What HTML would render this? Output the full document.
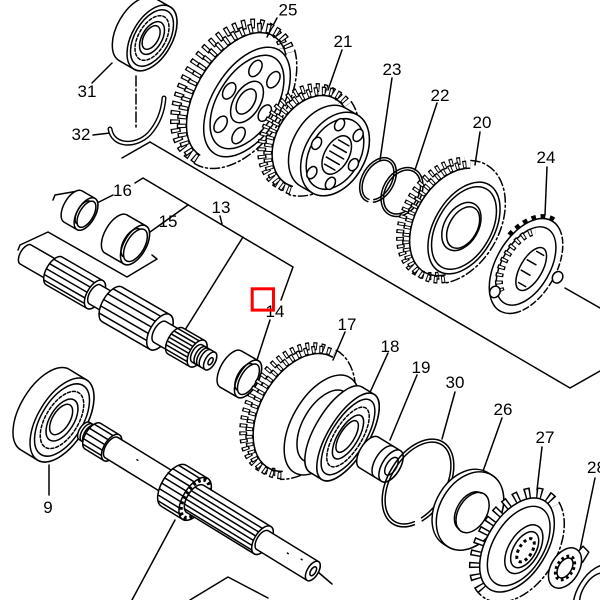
<!DOCTYPE html>
<html><head><meta charset="utf-8"><style>
html,body{margin:0;padding:0;background:#fff;}
svg{display:block}
text{font-family:"Liberation Sans",Arial,sans-serif;font-size:17px;fill:#000;stroke:none;text-anchor:middle}
</style></head><body>
<svg width="600" height="600" viewBox="0 0 600 600" xmlns="http://www.w3.org/2000/svg">
<rect width="600" height="600" fill="#fff"/>
<g fill="none" stroke="#000" stroke-width="1.5" stroke-linejoin="round" stroke-linecap="round">

<!-- frame lines & leaders -->
<path d="M150,142 L570,388 L600,371"/>
<path d="M150,142 L122,158"/>
<path d="M53,200 L55,195 L78,191 M135,183 L143,178 L293,267 L281,300"/>
<path d="M220,216 L222,224 M243,237 L185,330"/>
<path d="M150,232 L188,205"/>
<path d="M97,203 L113,195"/>
<path d="M18,250 L20,245 L48,232 L127,277 L157,259 L152,255"/>
<path d="M270,320 L257,360"/>
<path d="M92,83 L112,63"/>
<path d="M93,135 L110,133"/>
<path d="M277,18 L267,37"/>
<path d="M342,50 L328,90"/>
<path d="M392,78 L380,160"/>
<path d="M437,103 L415,170"/>
<path d="M480,132 L475,165"/>
<path d="M547,167 L545,215"/>
<path d="M345,332 L333,360"/>
<path d="M388,353 L367,399"/>
<path d="M417,375 L390,440"/>
<path d="M455,392 L442,439"/>
<path d="M502,418 L482,474"/>
<path d="M542,447 L537,490"/>
<path d="M595,478 L580,550"/>
<path d="M49,465 L49,495"/>
<path d="M175,520 L132,600"/>
<path d="M190,600 L228,577 L268,598"/>
<path d="M318,572 L332,584"/>
<path d="M565,288 L600,308"/>
<path d="M136,76 L136,130" stroke-dasharray="10 3 2 3"/>

<!-- bearing 31 -->
<g transform="translate(152,38) rotate(30)">
<path fill="#fff" d="M-17,-36 L0,-36 A20 36 0 0 1 0,36 L-17,36 A20 36 0 0 1 -17,-36Z"/>
<ellipse rx="20" ry="36" fill="#fff"/>
<ellipse rx="17.2" ry="31"/>
<ellipse rx="13.6" ry="24.5" stroke-dasharray="3 2"/>
<ellipse rx="10" ry="18"/>
<ellipse cx="-1" rx="7.2" ry="13"/>
</g>

<!-- circlip 32 -->
<path d="M110,129 C113,147 136,147 149,134 C158,124 163,111 164,98" stroke-width="5"/>
<path d="M110,129 C113,147 136,147 149,134 C158,124 163,111 164,98" stroke="#fff" stroke-width="2.2"/>

<!-- gear 25 -->
<g transform="translate(247,102) rotate(32)">
<g transform="translate(-8,0)">
<path d="M-12,75 A45 75 0 1 1 10.5,-65" pathLength="48" stroke-width="10" stroke-dasharray="1 1" stroke-linecap="butt"/>
<path d="M-12,75 A45 75 0 1 1 10.5,-65" pathLength="48" stroke="#fff" stroke-width="7.2" stroke-dasharray="0.5 1.5" stroke-dashoffset="-0.25" stroke-linecap="butt"/>
</g>
<path d="M-12,75 A45 75 0 1 1 10.5,-65" pathLength="48" stroke-width="10" stroke-dasharray="1 1" stroke-linecap="butt"/>
<path d="M-12,75 A45 75 0 1 1 10.5,-65" pathLength="48" stroke="#fff" stroke-width="7.2" stroke-dasharray="0.5 1.5" stroke-dashoffset="-0.25" stroke-linecap="butt"/>
<path d="M-12,70 A40 70 0 1 1 8,-60.6"/>
<path d="M13,-69.3 A50 80 0 0 1 -12,80" stroke-dasharray="9 3 2 3"/>
<ellipse rx="34" ry="61" fill="#fff"/>
<ellipse rx="29" ry="52"/>
<ellipse cx="21" cy="0" rx="5.5" ry="9"/>
<ellipse cx="10.6" cy="32.9" rx="5.5" ry="9"/>
<ellipse cx="-10.6" cy="32.9" rx="5.5" ry="9"/>
<ellipse cx="-21" cy="0" rx="5.5" ry="9"/>
<ellipse cx="-10.6" cy="-32.9" rx="5.5" ry="9"/>
<ellipse cx="10.6" cy="-32.9" rx="5.5" ry="9"/>
<ellipse rx="13" ry="23"/>
<ellipse cx="-1" rx="8" ry="14"/>
</g>

<!-- gear 21 -->
<g transform="translate(335,154) rotate(30)">
<g transform="translate(-7,0)">
<path d="M-20.1,53.7 A39.5 53.5 0 1 1 -13.5,-49.3" pathLength="44" stroke-width="9" stroke-dasharray="1 1" stroke-linecap="butt"/>
<path d="M-20.1,53.7 A39.5 53.5 0 1 1 -13.5,-49.3" pathLength="44" stroke="#fff" stroke-width="6.2" stroke-dasharray="0.5 1.5" stroke-dashoffset="-0.25" stroke-linecap="butt"/>
</g>
<path d="M-20.1,53.7 A39.5 53.5 0 1 1 -13.5,-49.3" pathLength="44" stroke-width="9" stroke-dasharray="1 1" stroke-linecap="butt"/>
<path d="M-20.1,53.7 A39.5 53.5 0 1 1 -13.5,-49.3" pathLength="44" stroke="#fff" stroke-width="6.2" stroke-dasharray="0.5 1.5" stroke-dashoffset="-0.25" stroke-linecap="butt"/>
<path d="M-20.9,49.3 A35 49 0 1 1 -15,-45"/>
<path d="M-12,-53.5 A44 58 0 0 1 -19.4,58.1" stroke-dasharray="9 3 2 3"/>
<path fill="#fff" d="M-14,-45 L0,-45 A30 45 0 0 1 0,45 L-14,45 A30 45 0 0 1 -14,-45Z"/>
<ellipse rx="30" ry="45" fill="#fff"/>
<ellipse rx="25" ry="38"/>
<ellipse cx="2" rx="12" ry="21"/>
<path d="M-4,-14 L8,-14 M-6,-7 L9,-7 M-6,0 L10,0 M-6,7 L9,7 M-4,14 L8,14"/>
<ellipse cx="21.3" cy="0" rx="4.5" ry="6.5" fill="#fff"/>
<ellipse cx="10.7" cy="27.7" rx="4.5" ry="6.5" fill="#fff"/>
<ellipse cx="-10.7" cy="27.7" rx="4.5" ry="6.5" fill="#fff"/>
<ellipse cx="-21.3" cy="0" rx="4.5" ry="6.5" fill="#fff"/>
<ellipse cx="-10.7" cy="-27.7" rx="4.5" ry="6.5" fill="#fff"/>
<ellipse cx="10.7" cy="-27.7" rx="4.5" ry="6.5" fill="#fff"/>
</g>

<!-- circlips 23, 22 -->
<g transform="translate(378,180) rotate(30)">
<ellipse rx="16" ry="24" pathLength="100" stroke-dasharray="19 4.5 76.5"/>
<ellipse rx="13.5" ry="21.5" pathLength="100" stroke-dasharray="19 4.5 76.5"/>
</g>
<g transform="translate(402,192) rotate(30)">
<ellipse rx="19" ry="26"/>
<ellipse rx="16.5" ry="23.5"/>
</g>

<!-- gear 20 -->
<g transform="translate(464,228) rotate(30)">
<g transform="translate(-7,0)">
<path d="M9,53.7 A42 62 0 1 1 -26.4,-58.3" pathLength="46" stroke-width="8" stroke-dasharray="1 1" stroke-linecap="butt"/>
<path d="M9,53.7 A42 62 0 1 1 -26.4,-58.3" pathLength="46" stroke="#fff" stroke-width="5.2" stroke-dasharray="0.5 1.5" stroke-dashoffset="-0.25" stroke-linecap="butt"/>
</g>
<path d="M9,53.7 A42 62 0 1 1 -26.4,-58.3" pathLength="46" stroke-width="8" stroke-dasharray="1 1" stroke-linecap="butt"/>
<path d="M9,53.7 A42 62 0 1 1 -26.4,-58.3" pathLength="46" stroke="#fff" stroke-width="5.2" stroke-dasharray="0.5 1.5" stroke-dashoffset="-0.25" stroke-linecap="butt"/>
<path d="M7,50.2 A38 58 0 1 1 -25,-54.5"/>
<path d="M-27.7,-62 A46 66 0 0 1 11,57.2" stroke-dasharray="9 3 2 3"/>
<ellipse rx="30" ry="50" fill="#fff"/>
<ellipse rx="27" ry="45"/>
<ellipse cx="-3" rx="17" ry="26"/>
<ellipse cx="-1" rx="14" ry="22.5"/>
</g>

<!-- gear 24 -->
<g transform="translate(526,266) rotate(30)">
<ellipse rx="30" ry="52" fill="#fff" stroke="none"/>
<path d="M-30,-18.5 A32 54 0 0 1 5.6,-53.2" pathLength="12" stroke-width="5" stroke-dasharray="1 1" stroke-linecap="butt"/>
<path d="M15,45 A30 52 0 1 1 10.3,-48.9"/>
<path d="M10.3,-48.9 A30 52 0 0 1 15,45" stroke-dasharray="6 3"/>
<ellipse rx="24" ry="43"/>
<path d="M-8.8,34.8 A20 37 0 0 1 -8.8,-34.8" pathLength="20" stroke-width="8" stroke-dasharray="1 1" stroke-linecap="butt"/>
<path d="M-8.8,34.8 A20 37 0 0 1 -8.8,-34.8" pathLength="20" stroke="#fff" stroke-width="5.2" stroke-dasharray="0.5 1.5" stroke-dashoffset="-0.25" stroke-linecap="butt"/>
<ellipse cx="6" rx="11" ry="24" fill="#fff"/>
<path d="M2,-18 L10,-18 M2,18 L10,18 M-2,-6 L8,-6 M-2,6 L8,6"/>
<ellipse cx="33" cy="-6" rx="5" ry="6" fill="#fff"/>
<ellipse cx="-14" cy="38" rx="5" ry="6" fill="#fff"/>
</g>

<!-- bushing 16 -->
<g transform="translate(86,214) rotate(30)">
<path fill="#fff" d="M-15,-18 L0,-18 A9 18 0 0 1 0,18 L-15,18 A9 18 0 0 1 -15,-18Z"/>
<ellipse rx="9" ry="18" fill="#fff"/>
<ellipse cx="0.5" rx="7" ry="14.5"/>
<path d="M-3,-13 A6 13 0 0 0 -3,13"/>
</g>
<!-- bushing 15 -->
<g transform="translate(135,245) rotate(30)">
<path fill="#fff" d="M-22,-22 L0,-22 A11 22 0 0 1 0,22 L-22,22 A11 22 0 0 1 -22,-22Z"/>
<ellipse rx="11" ry="22" fill="#fff"/>
<ellipse cx="0.5" rx="9" ry="18"/>
<path d="M-4,-16 A8 16 0 0 0 -4,16"/>
</g>

<!-- upper main shaft -->
<g transform="translate(30,257) rotate(30)">
<path fill="#fff" d="M-5,-11 L28,-11 A5.5 11 0 0 1 28,11 L-5,11 A5.5 11 0 0 1 -5,-11Z"/>
<ellipse cx="28" rx="5.5" ry="11" fill="#fff"/>
<path fill="#fff" d="M28,-16 L75,-16 A8 16 0 0 1 75,16 L28,16 A8 16 0 0 1 28,-16Z"/>
<path d="M21.8,-10 L75,-10 M20.3,-4 L75,-4 M20.1,2 L75,2 M21.1,8 L75,8 M23.3,13 L75,13"/>
<ellipse cx="75" rx="8" ry="16" fill="#fff"/>
<path fill="#fff" d="M75,-11 L95,-11 A5.5 11 0 0 1 95,11 L75,11 A5.5 11 0 0 1 75,-11Z"/>
<ellipse cx="95" rx="5.5" ry="11" fill="#fff"/>
<path fill="#fff" d="M95,-20 L150,-20 A10 20 0 0 1 150,20 L95,20 A10 20 0 0 1 95,-20Z"/>
<path d="M87.9,-14 L150,-14 M85.6,-7 L150,-7 M85,0 L150,0 M85.6,7 L150,7 M87.9,14 L150,14"/>
<ellipse cx="150" rx="10" ry="20" fill="#fff"/>
<path fill="#fff" d="M150,-12 L168,-12 A6 12 0 0 1 168,12 L150,12 A6 12 0 0 1 150,-12Z"/>
<ellipse cx="168" rx="6" ry="12" fill="#fff"/>
<path fill="#fff" d="M168,-15 L193,-15 A7.5 15 0 0 1 193,15 L168,15 A7.5 15 0 0 1 168,-15Z"/>
<path d="M163.5,-12 L193,-12 M161.7,-8 L193,-8 M160.8,-4 L193,-4 M160.5,0 L193,0 M160.8,4 L193,4 M161.7,8 L193,8 M163.5,12 L193,12"/>
<ellipse cx="193" rx="7.5" ry="15" fill="#fff"/>
<path fill="#fff" d="M193,-10 L208,-10 A5 10 0 0 1 208,10 L193,10 A5 10 0 0 1 193,-10Z"/>
<path d="M197,-10 A5 10 0 0 0 197,10 M200,-10 A5 10 0 0 0 200,10 M203,-10 A5 10 0 0 0 203,10"/>
<ellipse cx="208" rx="5" ry="10" fill="#fff"/>
<ellipse cx="208.5" rx="2" ry="4"/>
</g>

<!-- ring 14 -->
<g transform="translate(248,379) rotate(30)">
<path fill="#fff" d="M-20,-21 L0,-21 A10 21 0 0 1 0,21 L-20,21 A10 21 0 0 1 -20,-21Z"/>
<ellipse rx="10" ry="21" fill="#fff"/>
<ellipse cx="0.5" rx="8" ry="17"/>
<path d="M-4,-15 A7 15 0 0 0 -4,15"/>
</g>

<!-- bearing 9 -->
<g transform="translate(62,420) rotate(31.5)">
<path fill="#fff" d="M-20,-47 L0,-47 A24 47 0 0 1 0,47 L-20,47 A24 47 0 0 1 -20,-47Z"/>
<ellipse rx="24" ry="47" fill="#fff"/>
<ellipse rx="20.6" ry="40.4"/>
<ellipse rx="16.3" ry="32" stroke-dasharray="3 2"/>
<ellipse rx="12" ry="23.5"/>
<ellipse cx="-1" rx="8.6" ry="17"/>
</g>

<!-- lower countershaft -->
<g transform="translate(86,432) rotate(31.5)">
<path fill="#fff" d="M-2,-10 L10,-10 A5 10 0 0 1 10,10 L-2,10 A5 10 0 0 1 -2,-10Z"/>
<path d="M1,-10 A5 10 0 0 0 1,10 M4,-10 A5 10 0 0 0 4,10 M7,-10 A5 10 0 0 0 7,10"/>
<path fill="#fff" d="M8,-15 L30,-15 A7.5 15 0 0 1 30,15 L8,15 A7.5 15 0 0 1 8,-15Z"/>
<path d="M3.4,-11 L30,-11 M1.1,-5 L30,-5 M0.6,1 L30,1 M2,7 L30,7 M4.8,12 L30,12"/>
<ellipse cx="30" rx="7.5" ry="15" fill="#fff"/>
<path fill="#fff" d="M30,-12 L105,-12 A6 12 0 0 1 105,12 L30,12 A6 12 0 0 1 30,-12Z"/>
<path d="M58,-3 L59,-3"/>
<path fill="#fff" d="M103,-24 L128,-24 A12 24 0 0 1 128,24 L103,24 A12 24 0 0 1 103,-24Z"/>
<path d="M96.4,-20 L128,-20 M93,-14 L128,-14 M91.4,-8 L128,-8 M91,-2 L128,-2 M91.3,4 L128,4 M92.6,10 L128,10 M95.4,16 L128,16 M98.3,21 L128,21"/>
<ellipse cx="128" rx="12" ry="24" fill="#fff"/>
<ellipse cx="128" rx="10.5" ry="21.5" pathLength="36" stroke-width="4" stroke-dasharray="1 1" stroke-linecap="butt"/>
<ellipse cx="129" rx="7.5" ry="15"/>
<path fill="#fff" d="M128,-16 L207,-16 A8 16 0 0 1 207,16 L128,16 A8 16 0 0 1 128,-16Z"/>
<path d="M121.8,-10 L207,-10 M120.4,-5 L207,-5 M120,0 L207,0 M120.4,5 L207,5 M121.8,10 L207,10 M124,14 L207,14"/>
<ellipse cx="207" rx="8" ry="16" fill="#fff"/>
<path fill="#fff" d="M207,-11 L266,-11 A5.5 11 0 0 1 266,11 L207,11 A5.5 11 0 0 1 207,-11Z"/>
<path d="M235,-2 L236,-2 M250,-4 L251,-4"/>
<ellipse cx="266" rx="5.5" ry="11" fill="#fff"/>
<ellipse cx="266.5" rx="2.5" ry="5"/>
</g>

<!-- gear 17 -->
<g transform="translate(322,425) rotate(30)">
<g transform="translate(-7,0)">
<path d="M-10,63.9 A44 68 0 1 1 -25,-68" pathLength="50" stroke-width="8" stroke-dasharray="1 1" stroke-linecap="butt"/>
<path d="M-10,63.9 A44 68 0 1 1 -25,-68" pathLength="50" stroke="#fff" stroke-width="5.2" stroke-dasharray="0.5 1.5" stroke-dashoffset="-0.25" stroke-linecap="butt"/>
</g>
<path d="M-10,63.9 A44 68 0 1 1 -25,-68" pathLength="50" stroke-width="8" stroke-dasharray="1 1" stroke-linecap="butt"/>
<path d="M-10,63.9 A44 68 0 1 1 -25,-68" pathLength="50" stroke="#fff" stroke-width="5.2" stroke-dasharray="0.5 1.5" stroke-dashoffset="-0.25" stroke-linecap="butt"/>
<path d="M-11.3,60.1 A40 64 0 1 1 -25,-64"/>
<path d="M-25,-72 A48 72 0 0 1 -8.6,67.7" stroke-dasharray="9 3 2 3"/>
<ellipse rx="30" ry="55" fill="#fff"/>
<ellipse cx="3" rx="22" ry="40"/>
</g>

<!-- bearing 18 -->
<g transform="translate(348,437) rotate(31.5)">
<path fill="#fff" d="M-14,-50 L0,-50 A20 50 0 0 1 0,50 L-14,50 A20 50 0 0 1 -14,-50Z"/>
<ellipse rx="20" ry="50" fill="#fff"/>
<ellipse rx="17.2" ry="43"/>
<ellipse rx="13.6" ry="34" stroke-dasharray="3 2"/>
<ellipse rx="10" ry="25"/>
<ellipse cx="-1" rx="7.2" ry="18"/>
</g>

<!-- collar 19 -->
<g transform="translate(391,466) rotate(31.5)">
<path fill="#fff" d="M-26,-18 L0,-18 A9 18 0 0 1 0,18 L-26,18 A9 18 0 0 1 -26,-18Z"/>
<path d="M-8,-18 A9 18 0 0 0 -8,18"/>
<ellipse rx="9" ry="18" fill="#fff"/>
<ellipse cx="0.5" rx="5" ry="10"/>
</g>

<!-- circlip 30 -->
<g transform="translate(418,483) rotate(31.5)">
<ellipse rx="30" ry="48" pathLength="100" stroke-dasharray="12.5 3.5 84"/>
<ellipse rx="27" ry="45" pathLength="100" stroke-dasharray="12.5 3.5 84"/>
</g>

<!-- washer 26 -->
<g transform="translate(470,511) rotate(31.5)">
<path fill="#fff" d="M-5,-42 L0,-42 A30 42 0 0 1 0,42 L-5,42 A30 42 0 0 1 -5,-42Z"/>
<ellipse rx="30" ry="42" fill="#fff"/>
<ellipse cx="3" rx="14" ry="22"/>
<path d="M0,-21 A13 21 0 0 0 0,21"/>
</g>

<!-- sprocket 27 -->
<g transform="translate(517,545) rotate(31.5)">
<path d="M-6.1,56.1 A35 57 0 1 1 12,-53.6" pathLength="26" stroke-width="12" stroke-dasharray="1 1" stroke-linecap="butt"/>
<path d="M-6.1,56.1 A35 57 0 1 1 12,-53.6" pathLength="26" stroke="#fff" stroke-width="9" stroke-dasharray="0.5 1.5" stroke-dashoffset="-0.25" stroke-linecap="butt"/>
<path d="M-5.2,51.2 A30 52 0 1 1 10.3,-48.9"/>
<path d="M13.7,-58.3 A40 62 0 0 1 -7,61.1" stroke-dasharray="9 3 2 3"/>
<ellipse rx="30" ry="52" fill="#fff"/>
<ellipse cx="2" rx="25" ry="44"/>
<ellipse cx="8" rx="15" ry="27"/>
<ellipse cx="9" rx="11" ry="20"/>
<ellipse cx="10" rx="6.5" ry="13" pathLength="20" stroke-width="3" stroke-dasharray="1 1" stroke-linecap="butt"/>
</g>

<!-- lock washer 28 -->
<g transform="translate(565,568) rotate(31.5)">
<path fill="#fff" d="M2,-18 L4,-28 L12,-26 L12,-14 Z"/>
<ellipse rx="14" ry="22" fill="#fff"/>
<ellipse rx="8" ry="13" pathLength="24" stroke-width="3" stroke-dasharray="1 1" stroke-linecap="butt"/>
<ellipse rx="6.5" ry="11"/>
</g>

<!-- nut -->
<g transform="translate(594,592) rotate(31.5)">
<ellipse rx="16" ry="30" fill="#fff"/>
<ellipse rx="11" ry="21"/>
</g>
</g>

<!-- labels -->
<text x="288" y="15.5">25</text>
<text x="343" y="47">21</text>
<text x="392" y="75">23</text>
<text x="440" y="101">22</text>
<text x="482" y="128">20</text>
<text x="546" y="163">24</text>
<text x="87" y="97">31</text>
<text x="81" y="140">32</text>
<text x="122.5" y="196">16</text>
<text x="168" y="227">15</text>
<text x="221" y="213">13</text>
<text x="275" y="317">14</text>
<text x="347" y="330">17</text>
<text x="390" y="352">18</text>
<text x="421" y="373">19</text>
<text x="455" y="388">30</text>
<text x="503" y="415">26</text>
<text x="545" y="443">27</text>
<text x="587" y="473" style="text-anchor:start">28</text>
<text x="48" y="513">9</text>

<rect x="252.2" y="288.8" width="21.3" height="21.3" fill="none" stroke="#ff0000" stroke-width="3"/>
</svg>
</body></html>
